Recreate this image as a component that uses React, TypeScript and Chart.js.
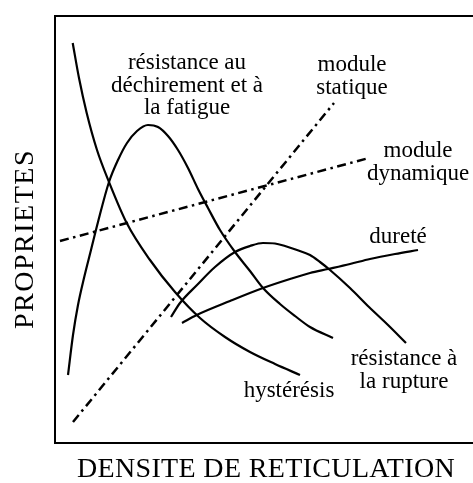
import React, { useEffect, useRef } from "react";
import { Chart, registerables } from "chart.js";

Chart.register(...registerables);

// Data (x: crosslink density, y: property level, arbitrary units)
const hysteresisX = [17.7, 24, 31.7, 42, 54, 71.7, 95, 120, 145, 170, 195, 220, 245];
const hysteresisY = [400, 365, 330, 293, 261, 220, 183, 151, 125, 106, 91, 79, 68];

const dechirementX = [13, 18, 23, 29, 36, 43, 54, 63, 72, 82, 93, 103, 113, 123, 133, 143, 153, 165, 180, 195, 208, 225, 240, 255, 278];
const dechirementY = [68, 108, 138, 165, 193, 221, 261, 283, 300, 312, 318, 316, 307, 293, 275, 254, 235, 213, 191, 172, 155, 139, 127, 116, 105];

const ruptureX = [116, 125, 142, 160, 180, 195, 208, 220, 230, 242, 255, 265, 275, 295, 314, 333, 351];
const ruptureY = [126, 140, 158, 176, 191, 197, 200, 199.5, 197, 193, 188, 181, 173, 155, 136, 118, 100];

const dureteX = [127, 141.7, 175, 208, 235, 255, 273, 295, 315, 340, 363];
const dureteY = [120, 128, 142, 155, 164, 170, 174, 179, 184, 189, 193];

const statiqueX = [18, 279];
const statiqueY = [21, 340];

const dynamiqueX = [5, 314];
const dynamiqueY = [202, 285];

const xTitle = "DENSITE DE RETICULATION";
const yTitle = "PROPRIETES";

const labelLines = [
  ["résistance au", "déchirement et à", "la fatigue"],
  ["module", "statique"],
  ["module", "dynamique"],
  ["dureté"],
  ["résistance à", "la rupture"],
  ["hystérésis"],
];
// anchor (center x, first baseline y) in data units, and line step in data units
const labelAnchors = [
  { x: 132, y: 374 },
  { x: 297, y: 372 },
  { x: 363, y: 286 },
  { x: 343, y: 200 },
  { x: 349, y: 78 },
  { x: 234, y: 46 },
];
const LINE_STEP = 22.5;

const FONT = '"Liberation Serif", "Times New Roman", serif';

function pts(xs: number[], ys: number[]) {
  return xs.map((x, i) => ({ x, y: ys[i] }));
}

const overlayPlugin = {
  id: "overlay",
  afterDraw(chart: any) {
    const { ctx, chartArea, scales } = chart;
    const { left, top, bottom, right } = chartArea;
    ctx.save();
    // frame
    ctx.strokeStyle = "#000";
    ctx.lineWidth = 2;
    ctx.beginPath();
    ctx.moveTo(right + 5, top);
    ctx.lineTo(left, top);
    ctx.lineTo(left, bottom);
    ctx.lineTo(right + 5, bottom);
    ctx.stroke();

    // annotations
    ctx.fillStyle = "#000";
    ctx.font = `23px ${FONT}`;
    ctx.textAlign = "center";
    ctx.textBaseline = "alphabetic";
    labelLines.forEach((lines, i) => {
      const a = labelAnchors[i];
      lines.forEach((t, j) => {
        const px = scales.x.getPixelForValue(a.x);
        const py = scales.y.getPixelForValue(a.y - j * LINE_STEP);
        ctx.fillText(t, px, py);
      });
    });

    // axis titles
    ctx.font = `28px ${FONT}`;
    try { (ctx as any).letterSpacing = "0.35px"; } catch (e) {}
    ctx.fillText(xTitle, (left + right) / 2 + 2, bottom + 34);
    ctx.save();
    try { (ctx as any).letterSpacing = "1.5px"; } catch (e) {}
    ctx.translate(33, 239);
    ctx.rotate(-Math.PI / 2);
    ctx.fillText(yTitle, 0, 0);
    ctx.restore();
    ctx.restore();
  },
};

export default function App() {
  const ref = useRef<HTMLCanvasElement | null>(null);

  useEffect(() => {
    if (!ref.current) return;
    const solid = (label: string, xs: number[], ys: number[]) => ({
      label,
      data: pts(xs, ys),
      showLine: true,
      borderColor: "#000",
      borderWidth: 2.2,
      pointRadius: 0,
      fill: false,
      cubicInterpolationMode: "monotone" as const,
    });
    const dashed = (label: string, xs: number[], ys: number[]) => ({
      ...solid(label, xs, ys),
      cubicInterpolationMode: "default" as const,
      tension: 0,
      borderWidth: 2.5,
      borderDash: [9, 4.5, 2.5, 4.5],
      borderCapStyle: "butt" as const,
    });
    const chart = new Chart(ref.current, {
      type: "scatter",
      data: {
        datasets: [
          solid("hystérésis", hysteresisX, hysteresisY),
          solid("résistance au déchirement et à la fatigue", dechirementX, dechirementY),
          solid("résistance à la rupture", ruptureX, ruptureY),
          solid("dureté", dureteX, dureteY),
          dashed("module statique", statiqueX, statiqueY),
          dashed("module dynamique", dynamiqueX, dynamiqueY),
        ],
      },
      options: {
        responsive: false,
        animation: false,
        layout: { padding: { left: 55, top: 16, right: 0, bottom: 40 } },
        scales: {
          x: { type: "linear", min: 0, max: 418, display: false },
          y: { type: "linear", min: 0, max: 427, display: false },
        },
        plugins: {
          legend: { display: false },
          tooltip: { enabled: false },
          title: { display: false },
        },
      },
      plugins: [overlayPlugin],
    });
    return () => chart.destroy();
  }, []);

  return (
    <div style={{ position: "fixed", left: 0, top: 0, width: 473, height: 483, background: "#fff" }}>
      <canvas ref={ref} width={473} height={483} style={{ width: 473, height: 483, display: "block" }} />
    </div>
  );
}
